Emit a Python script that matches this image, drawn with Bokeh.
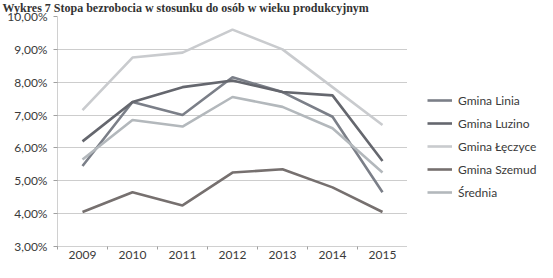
from bokeh.plotting import figure
from bokeh.layouts import row
from bokeh.models import Range1d, FixedTicker, Legend, LegendItem
from bokeh.embed import file_html
from bokeh.resources import INLINE

years = [2009, 2010, 2011, 2012, 2013, 2014, 2015]
linia = [5.45, 7.40, 7.00, 8.15, 7.70, 6.95, 4.65]
luzino = [6.20, 7.40, 7.85, 8.05, 7.70, 7.60, 5.60]
leczyce = [7.15, 8.75, 8.90, 9.60, 9.00, 7.85, 6.70]
szemud = [4.05, 4.65, 4.25, 5.25, 5.35, 4.80, 4.05]
srednia = [5.65, 6.85, 6.65, 7.55, 7.25, 6.60, 5.25]

names = ["Gmina Linia", "Gmina Luzino", "Gmina Łęczyce", "Gmina Szemud", "Średnia"]
series = [linia, luzino, leczyce, szemud, srednia]
colors = ["#7b7f88", "#65676e", "#c9cbce", "#76706f", "#b3b8bc"]

y_ticks = [3, 4, 5, 6, 7, 8, 9, 10]
y_labels = ["3,00%", "4,00%", "5,00%", "6,00%", "7,00%", "8,00%", "9,00%", "10,00%"]
title_text = "Wykres 7 Stopa bezrobocia w stosunku do osób w wieku produkcyjnym"

p = figure(width=407, height=262, output_backend="svg", toolbar_location=None,
           x_range=Range1d(2008.5, 2015.5), y_range=Range1d(3, 10),
           title=title_text,
           min_border_left=57, min_border_right=0, min_border_top=13, min_border_bottom=16)
p.outline_line_color = None
p.background_fill_color = "white"
p.border_fill_color = "white"

p.title.text_font = "Liberation Serif"
p.title.text_font_style = "bold"
p.title.text_font_size = "12px"
p.title.text_color = "#333333"
p.title.standoff = 0
p.title.offset = -55
p.title.align = "left"
p.title.vertical_align = "top"

for s, c in zip(series, colors):
    p.line(years, s, line_color=c, line_width=2.6)

font = "Lato"
p.xaxis.axis_label = None
p.xaxis.axis_label_standoff = 0
p.xaxis.ticker = FixedTicker(ticks=years, minor_ticks=[y + 0.5 for y in years[:-1]] + [2008.5])
p.xaxis.major_tick_line_color = None
p.xaxis.major_tick_out = 0
p.xaxis.major_tick_in = 0
p.xaxis.minor_tick_line_color = "#a0a0a0"
p.xaxis.minor_tick_out = 3
p.xaxis.minor_tick_in = 0
p.xaxis.axis_line_color = "#a0a0a0"
p.xaxis.axis_line_dash = "1 1"
p.xaxis.major_label_standoff = 1
p.xaxis.major_label_text_font = font
p.xaxis.major_label_text_font_size = "12px"
p.xaxis.major_label_text_color = "#3a3a3a"

p.yaxis.axis_label = None
p.yaxis.ticker = FixedTicker(ticks=y_ticks)
p.yaxis.major_label_overrides = {t: l for t, l in zip(y_ticks, y_labels)}
p.yaxis.minor_tick_line_color = None
p.yaxis.minor_tick_out = 0
p.yaxis.major_tick_line_color = "#a0a0a0"
p.yaxis.major_tick_out = 4
p.yaxis.major_tick_in = 0
p.yaxis.axis_line_color = "#a0a0a0"
p.yaxis.axis_line_dash = "1 1"
p.yaxis.major_label_standoff = 6
p.yaxis.major_label_text_font = font
p.yaxis.major_label_text_font_size = "12px"
p.yaxis.major_label_text_color = "#3a3a3a"

p.xgrid.grid_line_color = None
p.ygrid.ticker = FixedTicker(ticks=y_ticks)
p.ygrid.grid_line_color = "#9a9a9a"
p.ygrid.grid_line_dash = "1 1"
p.ygrid.grid_line_width = 1

# legend panel (series drawn off-screen, only their legend swatches show)
q = figure(width=130, height=262, output_backend="svg", toolbar_location=None,
           x_axis_type=None, y_axis_type=None, x_range=Range1d(0, 1), y_range=Range1d(0, 1),
           min_border=0)
q.outline_line_color = None
q.xgrid.grid_line_color = None
q.ygrid.grid_line_color = None
q.border_fill_color = "white"
items = []
for n, s, c in zip(names, series, colors):
    r = q.line(years, s, line_color=c, line_width=2.6)
    items.append(LegendItem(label=n, renderers=[r]))

legend = Legend(items=items, location=(20, 44), orientation="vertical",
                label_text_font=font, label_text_font_size="12px", label_text_color="#3a3a3a",
                glyph_width=25, glyph_height=20, label_height=20, spacing=3,
                padding=0, margin=0, border_line_color=None, background_fill_alpha=0,
                label_standoff=6)
q.add_layout(legend, "center")

layout = row(p, q)
open("out.html", "w").write(file_html(layout, INLINE))
